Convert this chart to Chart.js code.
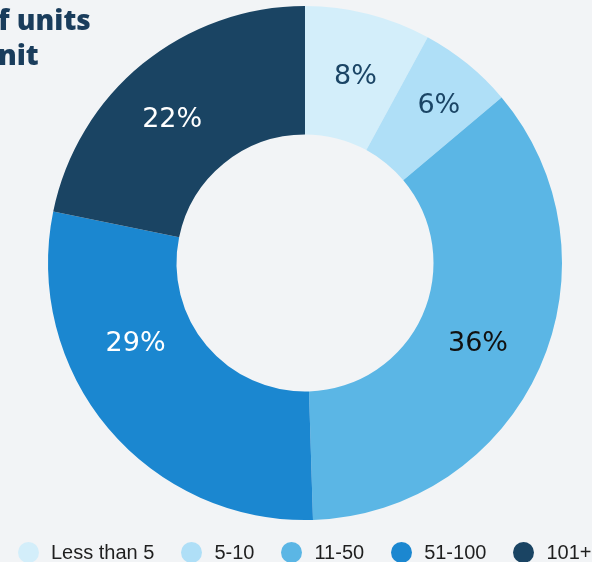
<!DOCTYPE html>
<html>
<head>
<meta charset="utf-8">
<script src="https://cdn.jsdelivr.net/npm/chart.js@4.4.1/dist/chart.umd.min.js"></script>
<style>
  html, body { margin: 0; padding: 0; background: #f2f4f6; }
  #wrap { position: relative; width: 592px; height: 562px; overflow: hidden; }
  #chart { position: absolute; left: 0; top: 0; }
  .titulo { position: absolute; font-family: "Open Sans", sans-serif; font-weight: 800;
            font-size: 28px; line-height: 28px; color: #1a3d5c; white-space: nowrap; }
  #leyenda { position: absolute; left: 18px; top: 541px; display: flex; align-items: center;
             font-family: "Liberation Sans", Arial, sans-serif; font-size: 20px; color: #1f1f1f; }
  #leyenda .item { display: flex; align-items: center; margin-right: 27px; }
  #leyenda .item:last-child { margin-right: 0; }
  #leyenda .punto { width: 21px; height: 21px; border-radius: 50%; margin-right: 12px; }
</style>
</head>
<body>
<div id="wrap">
  <canvas id="chart" width="592" height="562"></canvas>
  <div class="titulo" style="left:-2px; top:5px;">f units</div>
  <div class="titulo" style="left:-2px; top:40px;">nit</div>
  <div id="leyenda"></div>
</div>
<script>
// Rangos de unidades y su porcentaje
const categorias = ['Less than 5', '5-10', '11-50', '51-100', '101+'];
const porcentajes = [8, 6, 36, 29, 22];
const colores = ['#d3eefa', '#afdff7', '#5bb6e5', '#1b87d0', '#1a4463'];
const coloresTexto = ['#1b4565', '#1b4565', '#111111', '#ffffff', '#ffffff'];
// Ajuste fino (px) de cada etiqueta respecto al centro del segmento
const ajusteEtiquetas = [[3, 1], [12, -8], [-3, 2], [-22, -43], [-11, 6]];

// Etiquetas de porcentaje en el centro de cada segmento
const etiquetasPlugin = {
    id: 'etiquetas',
    afterDatasetsDraw(chart) {
        const ctx = chart.ctx;
        const meta = chart.getDatasetMeta(0);
        ctx.save();
        ctx.font = '27px "DejaVu Sans", sans-serif';
        ctx.textAlign = 'center';
        ctx.textBaseline = 'middle';
        meta.data.forEach((arc, i) => {
            const pos = arc.tooltipPosition();
            ctx.fillStyle = coloresTexto[i];
            ctx.fillText(porcentajes[i] + '%', pos.x + ajusteEtiquetas[i][0], pos.y + ajusteEtiquetas[i][1]);
        });
        ctx.restore();
    }
};

const ctx = document.getElementById('chart').getContext('2d');
const grafico = new Chart(ctx, {
    type: 'doughnut',
    data: {
        labels: categorias,
        datasets: [{
            data: porcentajes,
            backgroundColor: colores,
            borderWidth: 0
        }]
    },
    options: {
        responsive: false,
        animation: false,
        cutout: '50%',
        layout: { padding: { top: 6, bottom: 42, left: 18, right: 0 } },
        plugins: {
            legend: { display: false },
            tooltip: { enabled: false }
        }
    },
    plugins: [etiquetasPlugin]
});

// Leyenda inferior
const leyenda = document.getElementById('leyenda');
categorias.forEach((cat, i) => {
    const item = document.createElement('div');
    item.className = 'item';
    const punto = document.createElement('span');
    punto.className = 'punto';
    punto.style.background = colores[i];
    const texto = document.createElement('span');
    texto.textContent = cat;
    item.appendChild(punto);
    item.appendChild(texto);
    leyenda.appendChild(item);
});
</script>
</body>
</html>
